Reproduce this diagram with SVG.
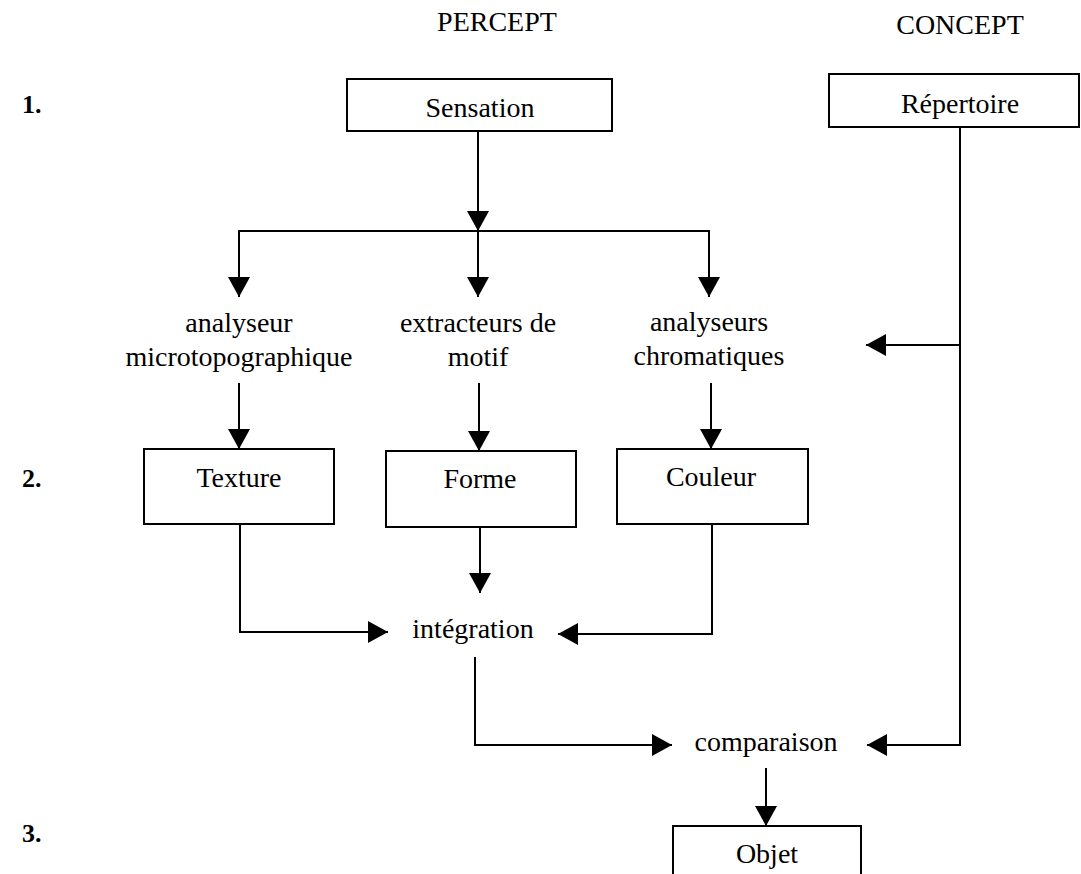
<svg xmlns="http://www.w3.org/2000/svg" width="1081" height="874" viewBox="0 0 1081 874">
<defs>
<style>
.t{font-family:"Liberation Serif","Times New Roman",serif;font-size:28px;fill:#000;text-anchor:middle}
.n{font-family:"Liberation Serif","Times New Roman",serif;font-size:26px;font-weight:bold;fill:#000}
.b{fill:#fff;stroke:#000;stroke-width:2}
.c{fill:none;stroke:#000;stroke-width:2}
.a{marker-end:url(#ah)}
</style>
<marker id="ah" markerUnits="userSpaceOnUse" markerWidth="20" markerHeight="22" refX="20" refY="11" orient="auto">
<path d="M0,0 L20,11 L0,22 z" fill="#000"/>
</marker>
</defs>
<rect width="1081" height="874" fill="#fff"/>

<g id="headers">
<text class="t" x="497" y="31">PERCEPT</text>
<text class="t" x="960" y="34">CONCEPT</text>
</g>
<g id="levels">
<text class="n" x="22" y="113">1.</text>
<text class="n" x="22" y="487">2.</text>
<text class="n" x="22" y="842">3.</text>
</g>

<g id="connectors">
<line class="c a" x1="478" y1="131" x2="478" y2="231"/>
<line class="c" x1="238" y1="231" x2="710" y2="231"/>
<line class="c a" x1="239" y1="231" x2="239" y2="297"/>
<line class="c a" x1="478" y1="231" x2="478" y2="297"/>
<line class="c a" x1="709" y1="231" x2="709" y2="297"/>
<line class="c a" x1="239" y1="383" x2="239" y2="449"/>
<line class="c a" x1="479" y1="383" x2="479" y2="451"/>
<line class="c a" x1="711" y1="383" x2="711" y2="449"/>
<polyline class="c a" points="240,524 240,632 388,632"/>
<line class="c a" x1="480" y1="527" x2="480" y2="593"/>
<polyline class="c a" points="712,524 712,634 558,634"/>
<polyline class="c a" points="475,657 475,745 672,745"/>
<line class="c a" x1="960" y1="345" x2="866" y2="345"/>
<polyline class="c a" points="960,127 960,745 867,745"/>
<line class="c a" x1="766" y1="768" x2="766" y2="826"/>
</g>

<g id="sensation">
<rect class="b" x="347" y="79" width="265" height="52"/>
<text class="t" x="480" y="117">Sensation</text>
</g>
<g id="repertoire">
<rect class="b" x="829" y="74" width="250" height="53"/>
<text class="t" x="960" y="113">Répertoire</text>
</g>
<g id="analyseur">
<text class="t" x="239" y="332">analyseur</text>
<text class="t" x="239" y="366">microtopographique</text>
</g>
<g id="extracteurs">
<text class="t" x="478" y="332">extracteurs de</text>
<text class="t" x="478" y="366">motif</text>
</g>
<g id="chromatiques">
<text class="t" x="709" y="331">analyseurs</text>
<text class="t" x="709" y="365">chromatiques</text>
</g>
<g id="texture">
<rect class="b" x="144" y="449" width="190" height="75"/>
<text class="t" x="239" y="487">Texture</text>
</g>
<g id="forme">
<rect class="b" x="386" y="451" width="190" height="76"/>
<text class="t" x="480" y="488">Forme</text>
</g>
<g id="couleur">
<rect class="b" x="617" y="449" width="191" height="75"/>
<text class="t" x="711" y="486">Couleur</text>
</g>
<g id="integration">
<text class="t" x="473" y="638">intégration</text>
</g>
<g id="comparaison">
<text class="t" x="766" y="751">comparaison</text>
</g>
<g id="objet">
<rect class="b" x="673" y="826" width="188" height="60"/>
<text class="t" x="767" y="863">Objet</text>
</g>
</svg>
